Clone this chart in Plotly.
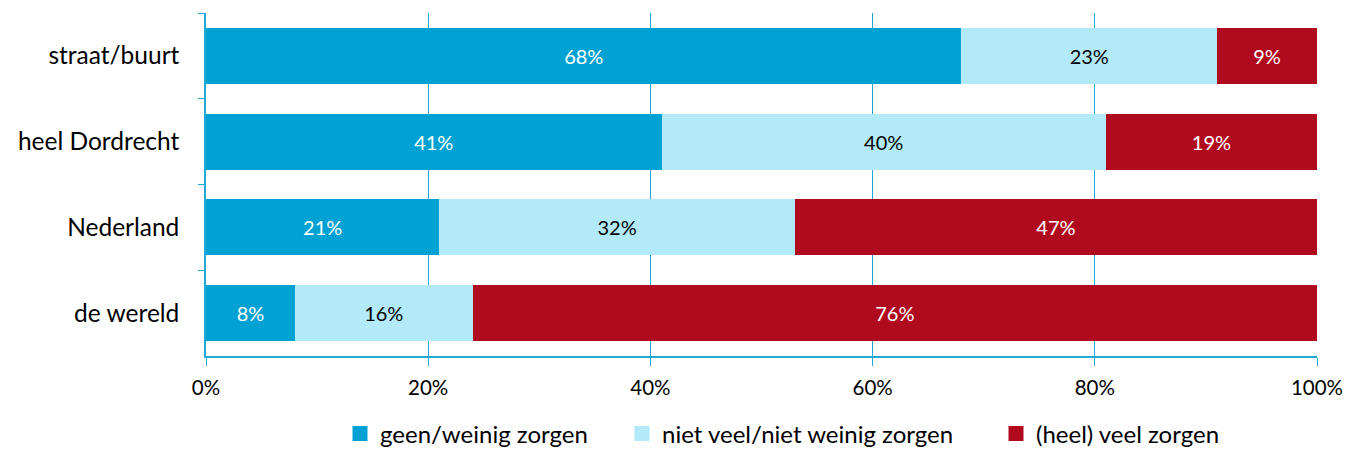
import plotly.graph_objects as go

categories = ["straat/buurt", "heel Dordrecht", "Nederland", "de wereld"]
geen_weinig = [68, 41, 21, 8]
niet_veel_niet_weinig = [23, 40, 32, 16]
heel_veel = [9, 19, 47, 76]
series_names = ["geen/weinig zorgen", "niet veel/niet weinig zorgen", "(heel) veel zorgen"]
x_ticks = [0, 20, 40, 60, 80, 100]

colors = ["#00A1D3", "#B3EAFA", "#B00A1E"]
text_colors = ["white", "black", "white"]
FONT = "Lato"
AXIS_BLUE = "#1FA8DA"
W, H = 1346, 449

# legend symbol centres (px from the left edge of the page)
legend_px = [360, 642, 1016]

fig = go.Figure()
for i, (name, vals, col, tcol) in enumerate(zip(
        series_names, [geen_weinig, niet_veel_niet_weinig, heel_veel],
        colors, text_colors)):
    fig.add_trace(go.Bar(
        y=categories, x=vals, name=name, orientation="h",
        marker=dict(color=col, line=dict(width=0)),
        text=[f"{v}%" for v in vals], textposition="inside",
        insidetextanchor="middle",
        textfont=dict(color=tcol, size=20, family=FONT),
        width=0.655, showlegend=False,
    ))
    # legend-only entry with a larger square swatch
    fig.add_trace(go.Scatter(
        x=[None], y=[None], mode="markers", name=name,
        marker=dict(symbol="square", size=15, color=col),
        legend="legend" if i == 0 else f"legend{i + 1}",
        showlegend=True,
    ))

legend_common = dict(orientation="h", xref="container", yref="container",
                     xanchor="left", yanchor="middle", y=1 - 434 / H,
                     font=dict(size=24, family=FONT, color="black"),
                     bgcolor="rgba(0,0,0,0)")
fig.update_layout(
    barmode="stack",
    width=W, height=H,
    margin=dict(l=206, r=29, t=13, b=93, autoexpand=False),
    plot_bgcolor="white", paper_bgcolor="white",
    font=dict(family=FONT, size=20, color="black"),
    uniformtext=dict(mode="show", minsize=10),
    legend=dict(x=(legend_px[0] - 20) / W, **legend_common),
    legend2=dict(x=(legend_px[1] - 20) / W, **legend_common),
    legend3=dict(x=(legend_px[2] - 20) / W, **legend_common),
)
fig.update_xaxes(
    range=[0, 100], tickvals=x_ticks, ticktext=[f"{v}%" for v in x_ticks],
    showgrid=True, gridcolor=AXIS_BLUE, gridwidth=1,
    showline=True, linecolor=AXIS_BLUE, linewidth=1.5,
    ticks="outside", tickcolor=AXIS_BLUE, ticklen=8, ticklabelstandoff=5,
    tickfont=dict(size=20.5), zeroline=False, automargin=False,
)
fig.update_yaxes(
    autorange="reversed", categoryorder="array", categoryarray=categories,
    showline=True, linecolor=AXIS_BLUE, linewidth=1.5,
    ticks="outside", tickson="boundaries", tickcolor=AXIS_BLUE, ticklen=6,
    showgrid=False, ticklabelstandoff=20, tickfont=dict(size=24.5),
    automargin=False,
)
fig.write_html("out.html")
